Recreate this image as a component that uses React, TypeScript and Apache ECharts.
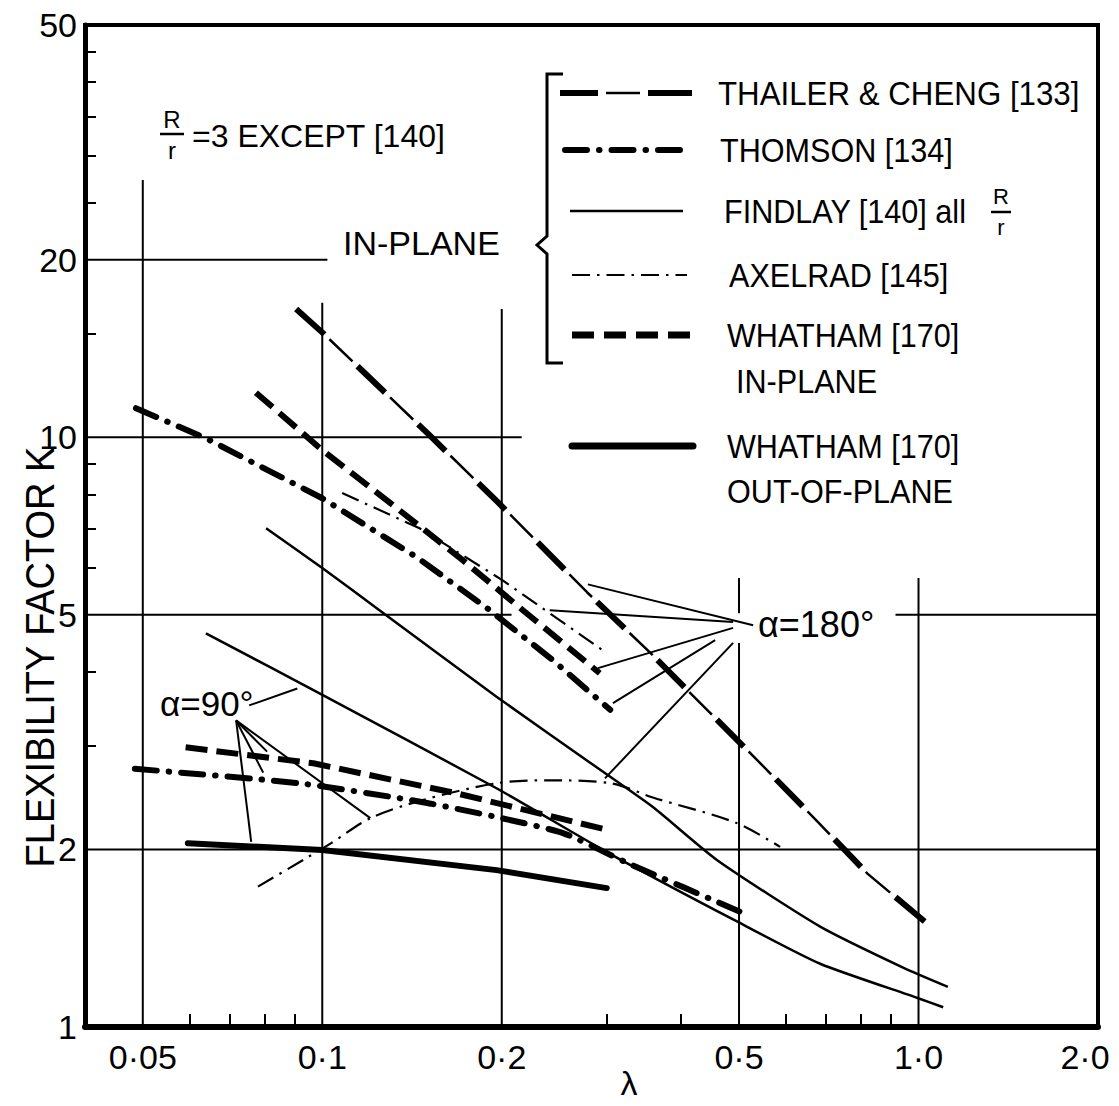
import React, { useEffect, useRef } from 'react';
import * as echarts from 'echarts';

type Pt = [number, number];

// ---- axis ticks ----
const xTickValues = [0.05, 0.1, 0.2, 0.5, 1.0, 2.0];
const xTickLabels = ['0·05', '0·1', '0·2', '0·5', '1·0', '2·0'];
const xMinorTicks = [0.06, 0.07, 0.08, 0.09, 0.3, 0.4, 0.6, 0.7, 0.8, 0.9];
const yTickValues = [1, 2, 5, 10, 20, 50];
const yTickLabels = ['1', '2', '5', '10', '20', '50'];
const yMinorTicks = [3, 4, 6, 7, 8, 9, 15, 25, 30, 35, 40, 45];

// ---- curves (λ, K) ----
const thailerCheng: Pt[] = [[0.0904, 16.5], [0.1004, 15.0], [0.151, 10.1], [0.197, 7.76], [0.278, 5.46], [0.354, 4.32], [0.442, 3.45], [0.543, 2.8], [0.677, 2.23], [0.821, 1.82], [1.04, 1.49]];
const thomsonInPlane: Pt[] = [[0.0487, 11.2], [0.0638, 9.96], [0.1, 7.88], [0.144, 6.26], [0.189, 5.13], [0.2435, 4.19], [0.304, 3.45]];
const thomsonOutPlane: Pt[] = [[0.0485, 2.74], [0.0915, 2.59], [0.146, 2.41], [0.196, 2.27], [0.254, 2.13], [0.324, 1.9], [0.516, 1.55]];
const findlayUpper: Pt[] = [[0.0805, 7.01], [0.1, 6.0], [0.1247, 5.09], [0.196, 3.63], [0.297, 2.7], [0.3585, 2.36], [0.459, 1.92], [0.684, 1.48], [0.944, 1.26], [1.12, 1.17]];
const findlayLower: Pt[] = [[0.0638, 4.65], [0.1004, 3.65], [0.196, 2.54], [0.3, 1.98], [0.496, 1.51], [0.684, 1.28], [0.996, 1.12], [1.1, 1.08]];
const axelradInPlane: Pt[] = [[0.108, 8.04], [0.1456, 7.01], [0.2007, 5.72], [0.2955, 4.35]];
const axelradOutPlane: Pt[] = [[0.078, 1.73], [0.0929, 1.92], [0.1035, 2.05], [0.1204, 2.26], [0.1462, 2.42], [0.196, 2.59], [0.237, 2.62], [0.305, 2.59], [0.3585, 2.45], [0.494, 2.22], [0.586, 2.02]];
const whathamInPlane180: Pt[] = [[0.0774, 11.9], [0.1, 9.51], [0.1347, 7.52], [0.172, 6.19], [0.217, 5.09], [0.292, 3.98]];
const whathamInPlane90: Pt[] = [[0.059, 2.98], [0.0966, 2.8], [0.168, 2.49], [0.3, 2.16]];
const whathamOutPlane: Pt[] = [[0.0595, 2.05], [0.1, 1.995], [0.196, 1.845], [0.3, 1.72]];

// ---- annotation leader lines ----
const alpha180Leaders: Pt[][] = [
  [[0.528, 4.8], [0.2789, 5.63]],
  [[0.4887, 4.86], [0.2407, 5.09]],
  [[0.4887, 4.75], [0.29, 4.06]],
  [[0.456, 4.53], [0.3073, 3.54]],
  [[0.4887, 4.48], [0.2979, 2.64]],
];
const alpha90Leaders: Pt[][] = [
  [[0.0717, 3.31], [0.076, 2.06]],
  [[0.0717, 3.31], [0.0796, 2.7]],
  [[0.0717, 3.31], [0.0808, 2.93]],
  [[0.0717, 3.31], [0.1204, 2.26]],
  [[0.0754, 3.51], [0.0908, 3.75]],
];

// ---- partial grid lines ----
const gridVertical: Pt[][] = [
  [[0.05, 27.3], [0.05, 1]],
  [[0.1, 16.9], [0.1, 1]],
  [[0.2, 16.5], [0.2, 1]],
  [[0.5, 5.77], [0.5, 5.03]],
  [[0.5, 4.48], [0.5, 1]],
  [[1.0, 5.77], [1.0, 1]],
];
const gridHorizontal: Pt[][] = [
  [[0.04, 20], [0.102, 20]],
  [[0.04, 10], [0.216, 10]],
  [[0.04, 5], [0.2077, 5]],
  [[0.915, 5], [2, 5]],
  [[0.04, 2], [2, 2]],
];

const FONT = "'Liberation Sans', 'DejaVu Sans', sans-serif";
const BLACK = '#000';

const lineSeries = (name: string, data: Pt[], lineStyle: any, z = 3, smooth: number | boolean = false) => ({
  type: 'line',
  name,
  data,
  symbol: 'none',
  showSymbol: false,
  silent: true,
  smooth,
  z,
  lineStyle: { color: BLACK, ...lineStyle },
});

const txt = (text: string, x: number, y: number, fontSize: number, extra: any = {}, align = 'left') => ({
  type: 'text',
  x,
  y,
  scaleX: extra.scaleX ?? 1,
  rotation: extra.rotation ?? 0,
  silent: true,
  style: {
    text,
    fill: BLACK,
    fontSize,
    fontFamily: FONT,
    align,
    textAlign: align,
    verticalAlign: 'middle',
    textVerticalAlign: 'middle',
  },
});

const gline = (x1: number, y1: number, x2: number, y2: number, lineWidth: number, lineDash?: number[], cap = 'butt') => ({
  type: 'line',
  silent: true,
  shape: { x1, y1, x2, y2 },
  style: { stroke: BLACK, lineWidth, lineDash, lineCap: cap },
});

const nearestIndex = (v: number, values: number[]) => {
  let best = 0;
  for (let i = 1; i < values.length; i++) {
    if (Math.abs(Math.log(values[i]) - Math.log(v)) < Math.abs(Math.log(values[best]) - Math.log(v))) best = i;
  }
  return best;
};

export default function App() {
  const ref = useRef<HTMLDivElement>(null);

  useEffect(() => {
    if (!ref.current) return;
    const chart = echarts.init(ref.current, undefined, { renderer: 'svg' });

    const series: any[] = [];
    gridVertical.forEach((s, i) => series.push(lineSeries('gridV' + i, s, { width: 2 }, 1)));
    gridHorizontal.forEach((s, i) => series.push(lineSeries('gridH' + i, s, { width: 2 }, 1)));
    alpha180Leaders.forEach((s, i) => series.push(lineSeries('lead180_' + i, s, { width: 2 }, 2)));
    alpha90Leaders.forEach((s, i) => series.push(lineSeries('lead90_' + i, s, { width: 2 }, 2)));

    series.push(lineSeries('THAILER & CHENG [133] thick', thailerCheng, { width: 6, type: [38, 46], dashOffset: 0, cap: 'butt' }, 4));
    series.push(lineSeries('THAILER & CHENG [133] thin', thailerCheng, { width: 2.5, type: [32, 52], dashOffset: 39, cap: 'butt' }, 4));
    series.push(lineSeries('THOMSON [134] in-plane', thomsonInPlane, { width: 6, type: [22, 12, 0.5, 12], cap: 'round' }, 4));
    series.push(lineSeries('THOMSON [134] out-of-plane', thomsonOutPlane, { width: 6, type: [22, 12, 0.5, 12], cap: 'round' }, 4, 0.2));
    series.push(lineSeries('FINDLAY [140] upper', findlayUpper, { width: 2.5 }, 4, 0.2));
    series.push(lineSeries('FINDLAY [140] lower', findlayLower, { width: 2.5 }, 4, 0.2));
    series.push(lineSeries('AXELRAD [145] in-plane', axelradInPlane, { width: 2.2, type: [18, 7, 2.5, 7] }, 4));
    series.push(lineSeries('AXELRAD [145] out-of-plane', axelradOutPlane, { width: 2.2, type: [18, 7, 2.5, 7] }, 4, 0.3));
    series.push(lineSeries('WHATHAM [170] in-plane 180', whathamInPlane180, { width: 6, type: [22, 9], cap: 'butt' }, 4));
    series.push(lineSeries('WHATHAM [170] in-plane 90', whathamInPlane90, { width: 6, type: [22, 9], cap: 'butt' }, 4));
    series.push(lineSeries('WHATHAM [170] out-of-plane', whathamOutPlane, { width: 6, cap: 'round' }, 4));

    const legendRows = [93, 150, 211, 275, 335, 446];
    const legendText = { fontSize: 34, scaleX: 0.9 };

    const graphic: any[] = [
      // bracket with brace
      {
        type: 'polyline',
        silent: true,
        shape: { points: [[563, 74], [547, 74], [547, 236], [537, 245], [547, 254], [547, 363], [563, 363]] },
        style: { stroke: BLACK, lineWidth: 3, fill: null },
      },
      // legend samples
      gline(560, legendRows[0], 598, legendRows[0], 6),
      gline(606, legendRows[0], 640, legendRows[0], 2.5),
      gline(648, legendRows[0], 692, legendRows[0], 6),
      gline(565, legendRows[1], 687, legendRows[1], 6, [22, 12, 0.5, 12], 'round'),
      gline(570, legendRows[2], 683, legendRows[2], 2.5),
      gline(572, legendRows[3], 687, legendRows[3], 2.2, [18, 7, 2.5, 7]),
      gline(572, legendRows[4], 697, legendRows[4], 7, [22, 10]),
      gline(572, legendRows[5], 693, legendRows[5], 7, undefined, 'round'),
      // legend texts
      txt('THAILER & CHENG [133]', 718, legendRows[0], legendText.fontSize, { scaleX: 0.92 }),
      txt('THOMSON [134]', 720, legendRows[1], legendText.fontSize, legendText),
      txt('FINDLAY [140] all', 724, legendRows[2], legendText.fontSize, legendText),
      txt('R', 1001, legendRows[2] - 15, 22, {}, 'center'),
      gline(991, legendRows[2] + 1, 1011, legendRows[2] + 1, 2.5),
      txt('r', 1001, legendRows[2] + 16, 22, {}, 'center'),
      txt('AXELRAD [145]', 729, legendRows[3], legendText.fontSize, legendText),
      txt('WHATHAM [170]', 727, legendRows[4], legendText.fontSize, legendText),
      txt('IN-PLANE', 736, legendRows[4] + 46, legendText.fontSize, legendText),
      txt('WHATHAM [170]', 727, legendRows[5], legendText.fontSize, legendText),
      txt('OUT-OF-PLANE', 727, legendRows[5] + 45, legendText.fontSize, legendText),
      // R/r = 3 EXCEPT [140]
      txt('R', 172, 119, 24, {}, 'center'),
      gline(160, 134, 184, 134, 2.5),
      txt('r', 172, 150, 24, {}, 'center'),
      txt('=3 EXCEPT [140]', 192, 136, 32),
      txt('IN-PLANE', 343, 243, 34),
      txt('α=90°', 160, 703, 35),
      txt('α=180°', 758, 624, 36),
      // axis titles
      txt('FLEXIBILITY FACTOR K', 40, 657, 40, { rotation: Math.PI / 2, scaleX: 0.95 }, 'center'),
      txt('λ', 629, 1083, 34, {}, 'center'),
    ];

    const labelRich = {
      n: { fontSize: 34, fontFamily: FONT, color: BLACK },
      last: { fontSize: 34, fontFamily: FONT, color: BLACK, padding: [0, 26, 0, 0] },
    };

    chart.setOption({
      animation: false,
      backgroundColor: '#fff',
      grid: {
        left: 85,
        right: 1119 - 1098,
        top: 25,
        bottom: 1106 - 1027,
        show: true,
        borderColor: BLACK,
        borderWidth: 4,
        backgroundColor: 'transparent',
        containLabel: false,
        outerBoundsMode: 'none',
      },
      xAxis: {
        type: 'log',
        logBase: 10,
        min: 0.04,
        max: 2,
        axisLine: { show: true, lineStyle: { color: BLACK, width: 6 } },
        axisTick: { show: true, inside: true, length: 13, customValues: xMinorTicks, lineStyle: { color: BLACK, width: 2 } },
        minorTick: { show: false },
        splitLine: { show: false },
        axisLabel: {
          show: true,
          customValues: xTickValues,
          formatter: (v: number) => {
            const i = nearestIndex(v, xTickValues);
            return i === xTickValues.length - 1 ? '{last|' + xTickLabels[i] + '}' : '{n|' + xTickLabels[i] + '}';
          },
          rich: labelRich,
          color: BLACK,
          fontSize: 34,
          fontFamily: FONT,
          margin: 13,
        },
      },
      yAxis: {
        type: 'log',
        logBase: 10,
        min: 1,
        max: 50,
        axisLine: { show: true, lineStyle: { color: BLACK, width: 5 } },
        axisTick: { show: true, inside: true, length: 11, customValues: yMinorTicks, lineStyle: { color: BLACK, width: 2 } },
        minorTick: { show: false },
        splitLine: { show: false },
        axisLabel: {
          show: true,
          customValues: yTickValues,
          formatter: (v: number) => yTickLabels[nearestIndex(v, yTickValues)],
          color: BLACK,
          fontSize: 34,
          fontFamily: FONT,
          margin: 8,
        },
      },
      series,
      graphic,
    });

    return () => chart.dispose();
  }, []);

  return <div ref={ref} style={{ position: 'fixed', left: 0, top: 0, width: 1119, height: 1106, background: '#fff' }} />;
}
